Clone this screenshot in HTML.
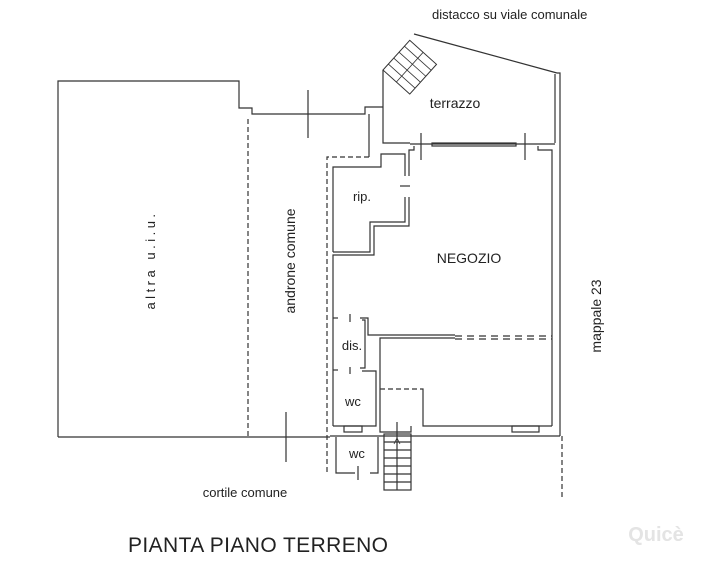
<!DOCTYPE html>
<html><head><meta charset="utf-8"><style>
html,body{margin:0;padding:0;background:#fff;}
svg{display:block;}
text{font-family:"Liberation Sans",sans-serif;fill:#222;}
</style></head><body>
<svg width="709" height="562" viewBox="0 0 709 562" xmlns="http://www.w3.org/2000/svg">
<g fill="none" stroke="#333" stroke-width="1.2">
<polyline points="58,437 58,81 239,81 239,108 252,108 252,114 365,114 365,107 383,107"/>
<line x1="58" y1="437" x2="330" y2="437"/>
<line x1="248" y1="119" x2="248" y2="437" stroke-dasharray="5,3"/>
<line x1="308" y1="90" x2="308" y2="138"/>
<line x1="286" y1="412" x2="286" y2="462"/>
<polyline points="383,70 383,143 410,143"/>
<line x1="414" y1="34" x2="557" y2="73"/>
<polyline points="557,73 560,73 560,436"/>
<line x1="555" y1="74" x2="555" y2="143"/>
<line x1="410" y1="144" x2="555" y2="144"/>
<rect x="432" y="143" width="84" height="3"/>
<line x1="421" y1="133" x2="421" y2="160"/>
<line x1="525" y1="133" x2="525" y2="160"/>
<g transform="translate(383,70) rotate(-48)">
<rect x="0" y="0" width="40" height="36" stroke-width="1"/>
<line x1="0" y1="18" x2="40" y2="18" stroke-width="0.8"/>
<line x1="8" y1="0" x2="8" y2="36" stroke-width="0.8"/>
<line x1="16" y1="0" x2="16" y2="36" stroke-width="0.8"/>
<line x1="24" y1="0" x2="24" y2="36" stroke-width="0.8"/>
<line x1="32" y1="0" x2="32" y2="36" stroke-width="0.8"/>
</g>
<line x1="369" y1="114" x2="369" y2="157"/>
<polyline points="369,157 327,157 327,475" stroke-dasharray="5,3"/>
<line x1="562" y1="436" x2="562" y2="500" stroke-dasharray="5,3"/>
<polyline points="405,176 405,154 381,154 381,167 333,167 333,252"/>
<polyline points="409,176 409,150 414,150 414,146"/>
<polyline points="405,197 405,222 370,222 370,252 333,252"/>
<polyline points="409,197 409,226 374,226 374,255 333,255 333,318"/>
<line x1="400" y1="186" x2="410" y2="186"/>
<polyline points="538,146 538,150 552,150 552,426"/>
<polyline points="333,318 338,318"/>
<polyline points="360,318 368,318 368,335 455,335"/>
<line x1="455" y1="336" x2="552" y2="336" stroke-dasharray="7,5"/>
<line x1="455" y1="339" x2="552" y2="339" stroke-dasharray="7,5"/>
<line x1="350" y1="314" x2="350" y2="322"/>
<line x1="350" y1="367" x2="350" y2="374"/>
<polyline points="362,320 365,320 365,368 360,368"/>
<line x1="333" y1="318" x2="333" y2="426"/>
<polyline points="333,370 338,370"/>
<polyline points="362,371 376,371 376,426 333,426"/>
<polyline points="380,426 380,338 455,338"/>
<line x1="380" y1="389" x2="420" y2="389" stroke-dasharray="5,3"/>
<polyline points="420,389 423,389 423,426 552,426"/>
<rect x="512" y="426" width="27" height="6"/>
<rect x="344" y="426" width="18" height="6"/>
<polyline points="380,426 380,432 411,432 411,426"/>
<line x1="330" y1="436" x2="560" y2="436"/>
<polyline points="355,473 336,473 336,437"/>
<polyline points="370,473 378,473 378,437"/>
<line x1="358" y1="466" x2="358" y2="480"/>
<rect x="384" y="434" width="27" height="56"/>
<line x1="384" y1="442" x2="411" y2="442"/>
<line x1="384" y1="450" x2="411" y2="450"/>
<line x1="384" y1="458" x2="411" y2="458"/>
<line x1="384" y1="466" x2="411" y2="466"/>
<line x1="384" y1="474" x2="411" y2="474"/>
<line x1="384" y1="482" x2="411" y2="482"/>
<line x1="397" y1="422" x2="397" y2="490"/>
<polyline points="394,444 397,438 400,444" stroke-width="0.8"/>
</g>
<text x="432" y="19" font-size="13">distacco su viale comunale</text>
<text x="455" y="108" font-size="14" text-anchor="middle">terrazzo</text>
<text x="362" y="201" font-size="13" text-anchor="middle">rip.</text>
<text x="469" y="263" font-size="14" text-anchor="middle">NEGOZIO</text>
<text x="352" y="350" font-size="13" text-anchor="middle">dis.</text>
<text x="353" y="406" font-size="13" text-anchor="middle">wc</text>
<text x="357" y="458" font-size="13" text-anchor="middle">wc</text>
<text transform="translate(155,260) rotate(-90)" font-size="13" text-anchor="middle" letter-spacing="3.5">altra u.i.u.</text>
<text transform="translate(295,261) rotate(-90)" font-size="14" text-anchor="middle">androne comune</text>
<text transform="translate(601,316) rotate(-90)" font-size="14" text-anchor="middle">mappale 23</text>
<text x="245" y="497" font-size="13" text-anchor="middle">cortile comune</text>
<text x="128" y="552" font-size="21" textLength="260">PIANTA PIANO TERRENO</text>
<text x="656" y="541" font-size="20" font-weight="bold" text-anchor="middle" style="fill:#e4e4e4">Quicè</text>
</svg>
</body></html>
